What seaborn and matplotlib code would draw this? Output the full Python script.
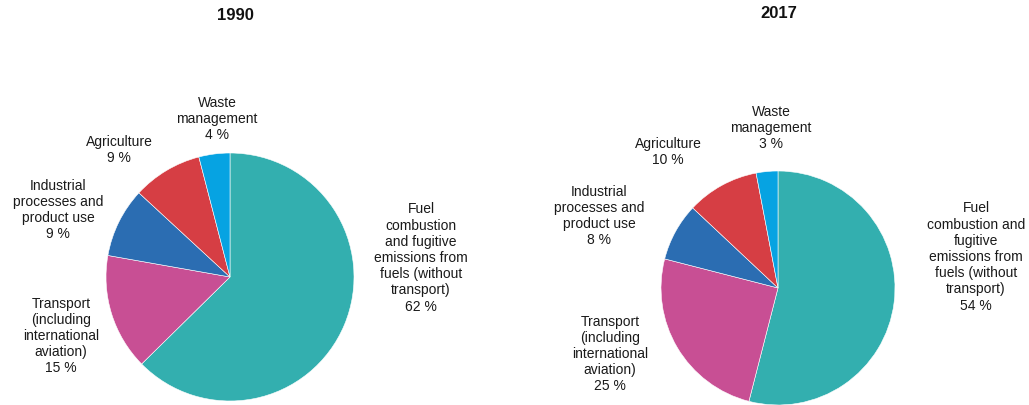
import matplotlib
matplotlib.use("Agg")
import matplotlib.pyplot as plt
import seaborn as sns

sns.set_theme(style="white")
plt.rcParams["font.family"] = ["Liberation Sans", "DejaVu Sans"]

# data
categorias = [
    "Fuel\ncombustion\nand fugitive\nemissions from\nfuels (without\ntransport)",
    "Transport\n(including\ninternational\naviation)",
    "Industrial\nprocesses and\nproduct use",
    "Agriculture",
    "Waste\nmanagement",
]
categorias_2017 = [
    "Fuel\ncombustion and\nfugitive\nemissions from\nfuels (without\ntransport)",
    "Transport\n(including\ninternational\naviation)",
    "Industrial\nprocesses and\nproduct use",
    "Agriculture",
    "Waste\nmanagement",
]
valores_1990 = [62, 15, 9, 9, 4]
valores_2017 = [54, 25, 8, 10, 3]
anos = ["1990", "2017"]

cores = ["#33AFAF", "#C84F94", "#2B6DB2", "#D63E44", "#06A3E2"]

W, H = 1029, 406
fig = plt.figure(figsize=(W / 100, H / 100), dpi=100)

# layout in pixels: pie centre, radius, title pos, label centres
paineis = [
    dict(cx=230, cy=278, r=124, tit=(235, 16),
         rot=[(421, 258), (61, 336), (58, 210), (119, 150), (217, 119)]),
    dict(cx=778, cy=289, r=117, tit=(779, 14),
         rot=[(976, 257), (610, 354), (599, 216), (668, 152), (771, 128)]),
]

for ano, vals, cats, p in zip(anos, [valores_1990, valores_2017],
                              [categorias, categorias_2017], paineis):
    ax = fig.add_axes([(p["cx"] - p["r"]) / W, (H - p["cy"] - p["r"]) / H,
                       2 * p["r"] / W, 2 * p["r"] / H])
    ax.pie(vals, colors=cores, startangle=90, counterclock=False,
           wedgeprops=dict(edgecolor="white", linewidth=0.4))
    ax.set_xlim(-1, 1); ax.set_ylim(-1, 1)
    ax.axis("off")
    for c, v, (x, y) in zip(cats, vals, p["rot"]):
        fig.text(x / W, 1 - y / H, f"{c}\n{v} %", ha="center", va="center",
                 fontsize=10, color="#1a1a1a", linespacing=1.2)
    fig.text(p["tit"][0] / W, 1 - p["tit"][1] / H, ano, ha="center", va="center",
             fontsize=12, fontweight="bold", color="#111111")

fig.savefig("out.png", dpi=100)
